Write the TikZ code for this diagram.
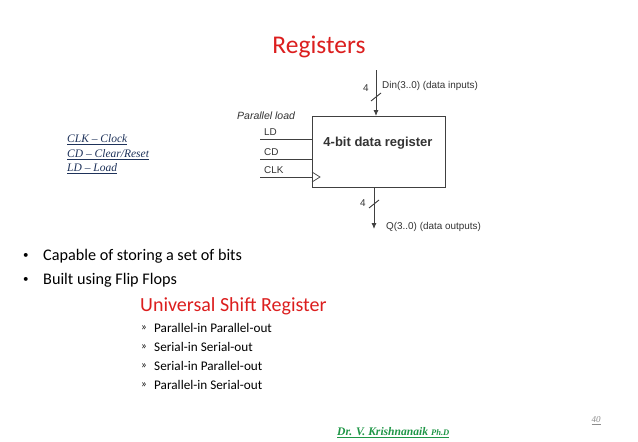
\documentclass[tikz,border=0pt]{standalone}
\usepackage{fontspec}
\setmainfont{Carlito}
\newfontfamily\arialf{Liberation Sans}
\newfontfamily\timesf{Liberation Serif}
\usetikzlibrary{arrows.meta}
\definecolor{titlered}{RGB}{220,30,30}
\definecolor{legblue}{RGB}{30,50,90}
\definecolor{authgreen}{RGB}{30,150,70}
\definecolor{pgray}{RGB}{140,140,140}
\tikzset{
  wire/.style={line width=0.9pt, draw=black!75},
  bus/.style={wire, -{Latex[length=6pt,width=5pt]}},
  dlab/.style={font=\arialf\fontsize{9.9}{11}\selectfont, inner sep=0pt, anchor=west, text=black!80},
  leg/.style={font=\timesf\itshape\fontsize{11.5}{13}\selectfont, text=legblue, inner sep=0pt, anchor=west},
  bul/.style={font=\fontsize{16.2}{19}\selectfont, inner sep=0pt, anchor=west},
  sub/.style={font=\fontsize{13.2}{15}\selectfont, inner sep=0pt, anchor=west},
}
\begin{document}
\begin{tikzpicture}[x=1pt,y=-1pt]
\useasboundingbox[fill=white] (0,0) rectangle (638,442);
\node[text=titlered, font=\fontsize{25.5}{30}\selectfont, inner sep=0pt] (title) at (319,47) {Registers};
% register box
\node[draw=black!75, line width=0.9pt, minimum width=133pt, minimum height=71pt, inner sep=0pt, anchor=north west] (reg) at (312,116) {};
\node[font=\arialf\bfseries\fontsize{13}{15}\selectfont, inner sep=0pt, text=black!80] (regl) at (378,143) {4-bit data register};
% Din
\coordinate (dintop) at (376,70);
\draw[bus] (dintop) -- (reg.north -| dintop);
\draw[wire] (371,101) -- (381,93);
\node[dlab] (n4a) at (363,88) {4};
\node[dlab] (din) at (382,86) {Din(3..0) (data inputs)};
% output
\coordinate (qbot) at (374,229);
\draw[bus] (reg.south -| qbot) -- (qbot);
\draw[wire] (369,208) -- (379,200);
\node[dlab] (n4b) at (360,203) {4};
\node[dlab] (qout) at (386,227) {Q(3..0) (data outputs)};
% control inputs
\node[dlab, font=\arialf\itshape\fontsize{10.5}{12}\selectfont] (pl) at (237,116) {Parallel load};
\coordinate (ldin) at (260,139);
\coordinate (cdin) at (260,159);
\coordinate (clkin) at (260,177);
\draw[wire] (ldin) -- (ldin -| reg.west);
\draw[wire] (cdin) -- (cdin -| reg.west);
\draw[wire] (clkin) -- (clkin -| reg.west);
\node[dlab] (ld) at (264,132) {LD};
\node[dlab] (cd) at (264,152) {CD};
\node[dlab] (clk) at (264,170) {CLK};
\draw[wire, line width=0.7pt] (312,172) -- (320,177) -- (312,182);
% legend
\node[leg] (l1) at (67,140) {\underline{CLK – Clock}};
\node[leg] (l2) at (67,155) {\underline{CD – Clear/Reset}};
\node[leg] (l3) at (67,169) {\underline{LD – Load}};
% bullets
\node[bul, font=\fontsize{11}{13}\selectfont] (b1d) at (23,256) {•};
\node[bul] (b1) at (43,256) {Capable of storing a set of bits};
\node[bul, font=\fontsize{11}{13}\selectfont] (b2d) at (23,280) {•};
\node[bul] (b2) at (43,280) {Built using Flip Flops};
\node[text=titlered, font=\fontsize{20}{24}\selectfont, inner sep=0pt, anchor=west] (usr) at (140,306) {Universal Shift Register};
\foreach \t/\yy [count=\i] in {Parallel-in Parallel-out/328, Serial-in Serial-out/347, Serial-in Parallel-out/366, Parallel-in Serial-out/385}{
  \node[sub, font=\fontsize{11}{13}\selectfont] (s\i d) at (141,\yy) {»};
  \node[sub] (s\i) at (154,\yy) {\t};
}
% footer
\node[font=\timesf\bfseries\itshape\fontsize{11.6}{14}\selectfont, text=authgreen, inner sep=0pt, anchor=west] (auth) at (337,433) {\underline{Dr. V. Krishnanaik {\fontsize{8.5}{10}\selectfont Ph.D}}};
\node[font=\timesf\itshape\fontsize{9}{11}\selectfont, text=pgray, inner sep=0pt] (pg) at (596,421) {\underline{40}};
\end{tikzpicture}
\end{document}
